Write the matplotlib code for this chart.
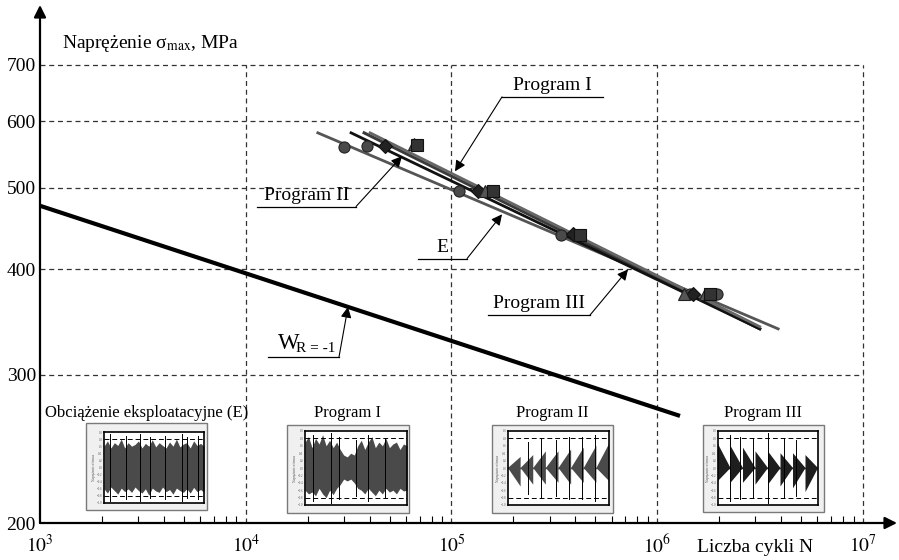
import numpy as np
import matplotlib.pyplot as plt
from matplotlib.patches import Rectangle
from matplotlib.ticker import NullLocator, LogLocator

plt.rcParams['font.family'] = ['Liberation Serif', 'DejaVu Serif']
plt.rcParams['mathtext.fontset'] = 'stix'

# test points (N, sigma_max)
e_N = [30000, 39000, 109000, 339000, 1.45e6, 1.95e6]
e_s = [559, 561, 496, 440, 374, 374]
p1_N = [47700, 134000, 388000, 1.5e6]
p1_s = [561, 496, 441, 374]
p2_N = [66000, 146000, 415000, 1.35e6, 1.7e6]
p2_s = [563, 495, 439, 374, 374]
p3_N = [68000, 160000, 420000, 1.8e6]
p3_s = [562, 496, 440, 374]

# fitted S-N lines (end points)
e_line_N = [22400, 3.87e6]
e_line_s = [581, 340]
p1_line_N = [37600, 3.15e6]
p1_line_s = [581, 340]
p2_line_N = [32500, 3.15e6]
p2_line_s = [581, 340]
p3_line_N = [40200, 3.15e6]
p3_line_s = [581, 342]

# W R=-1 curve
wr_N = [1e3, 1.29e6]
wr_s = [476, 268]

y_ticks = [200, 300, 400, 500, 600, 700]
x_ticks = [1e3, 1e4, 1e5, 1e6, 1e7]
x_labels = [r'$10^{3}$', r'$10^{4}$', r'$10^{5}$', r'$10^{6}$', r'$10^{7}$']

# load history envelopes for the small insets (normalised stress)
e_upper = [0.6, 0.75, 0.55, 0.7, 0.62, 0.8, 0.55, 0.7, 0.6, 0.65,
           0.75, 0.55, 0.68, 0.6, 0.78, 0.58, 0.7, 0.62, 0.55, 0.72,
           0.6, 0.8, 0.58, 0.66, 0.7, 0.55, 0.75, 0.62, 0.68, 0.6]
e_lower = [-0.6, -0.72, -0.55, -0.65, -0.75, -0.58, -0.68, -0.6, -0.7, -0.55,
           -0.65, -0.72, -0.6, -0.78, -0.58, -0.66, -0.7, -0.55, -0.68, -0.62,
           -0.75, -0.58, -0.65, -0.7, -0.6, -0.72, -0.56, -0.68, -0.62, -0.7]
e_spike_x = [0.06, 0.22, 0.36, 0.46, 0.61, 0.78, 0.83, 0.94]
e_spike_h = [0.95, 0.9, 0.95, 0.85, 0.9, 0.95, 0.85, 0.9]

p1_upper = [0.7, 0.85, 0.55, 0.8, 0.65, 0.9, 0.6, 0.75, 0.55, 0.7,
            0.5, 0.35, 0.3, 0.4, 0.35, 0.6, 0.75, 0.5, 0.7, 0.85,
            0.55, 0.7, 0.6, 0.8, 0.55, 0.65, 0.7, 0.5, 0.65, 0.6]
p1_lower = [-0.6, -0.7, -0.65, -0.75, -0.55, -0.7, -0.8, -0.6, -0.72, -0.55,
            -0.45, -0.3, -0.35, -0.3, -0.4, -0.55, -0.6, -0.7, -0.55, -0.65,
            -0.75, -0.6, -0.7, -0.55, -0.65, -0.6, -0.7, -0.55, -0.62, -0.6]
p1_spike_x = [0.08, 0.25, 0.33, 0.5, 0.62, 0.78]
p1_spike_h = [0.9, 0.95, 0.85, 0.75, 0.9, 0.8]

# block programs: max / min of each block
p2_block_up = [0.3, 0.35, 0.45, 0.45, 0.5, 0.55, 0.6, 0.65]
p2_block_lo = [-0.5, -0.45, -0.45, -0.4, -0.45, -0.4, -0.4, -0.35]
p2_spike_x = [0.2, 0.33, 0.48, 0.6, 0.73, 0.86]
p2_spike_h = [0.7, 0.8, 0.75, 0.85, 0.85, 0.9]

p3_block_up = [0.65, 0.6, 0.55, 0.45, 0.45, 0.4, 0.4, 0.35]
p3_block_lo = [-0.35, -0.4, -0.4, -0.45, -0.45, -0.5, -0.55, -0.65]
p3_spike_x = [0.12, 0.22, 0.35, 0.5, 0.66, 0.78]
p3_spike_h = [0.9, 0.85, 0.8, 0.95, 0.8, 0.75]

W, H = 899, 560
fig = plt.figure(figsize=(W / 100, H / 100), dpi=100)
ax = fig.add_axes([40 / W, (H - 523) / H, (897 - 40) / W, (523 - 5) / H])
ax.set_xscale('log')
ax.set_yscale('log')
ax.set_xlim(1e3, 10 ** (3 + (897 - 40) / 205.75))
ax.set_ylim(200, 824)
for s in ax.spines.values():
    s.set_visible(False)

# dashed grid box
for yv in y_ticks[1:]:
    ax.plot([1e3, 1e7], [yv, yv], ls=(0, (4, 3)), color='#333333', lw=0.9)
for xv in x_ticks[1:]:
    ax.plot([xv, xv], [200, 700], ls=(0, (4, 3)), color='#333333', lw=0.9)

# axes with arrows
ax.annotate('', xy=(0, 1), xytext=(0, 0), xycoords='axes fraction',
            arrowprops=dict(arrowstyle='-|>', lw=1.6, color='k',
                            mutation_scale=18, shrinkA=0, shrinkB=0))
ax.annotate('', xy=(1, 0), xytext=(0, 0), xycoords='axes fraction',
            arrowprops=dict(arrowstyle='-|>', lw=1.6, color='k',
                            mutation_scale=18, shrinkA=0, shrinkB=0))

ax.set_yticks(y_ticks)
ax.set_yticklabels([str(v) for v in y_ticks], fontsize=14)
ax.yaxis.set_minor_locator(NullLocator())
ax.tick_params(axis='y', length=0, pad=3)
ax.set_xticks(x_ticks)
ax.set_xticklabels(x_labels, fontsize=14)
ax.xaxis.set_minor_locator(LogLocator(base=10, subs=np.arange(2, 10)))
ax.tick_params(axis='x', which='major', length=0, pad=8)
ax.tick_params(axis='x', which='minor', direction='in', length=5, width=0.8,
               labelbottom=False)

# W R=-1
ax.plot(wr_N, wr_s, color='k', lw=3, solid_capstyle='butt')

# fitted lines
ax.plot(e_line_N, e_line_s, color='#555555', lw=2)
ax.plot(p1_line_N, p1_line_s, color='#3a3a3a', lw=2.2)
ax.plot(p2_line_N, p2_line_s, color='#111111', lw=2)
ax.plot(p3_line_N, p3_line_s, color='#666666', lw=2)

mk = dict(ls='none', markersize=8, markeredgewidth=0.8)
ax.plot(e_N, e_s, marker='o', color='#4a4a4a', markeredgecolor='#222222', **mk)
ax.plot(p1_N, p1_s, marker='D', color='#222222', markeredgecolor='#111111',
        **dict(mk, markersize=7))
ax.plot(p2_N, p2_s, marker='^', color='#555555', markeredgecolor='#222222', **mk)
ax.plot(p3_N, p3_s, marker='s', color='#333333', markeredgecolor='#111111', **mk)

# labels with underline + arrow
arrow = dict(arrowstyle='-|>', lw=0.8, color='k', mutation_scale=16,
             shrinkA=0, shrinkB=0)


def label(text, x0, x1, y, tip, start, size=14):
    ax.plot([x0, x1], [y, y], color='k', lw=0.9)
    xm = np.sqrt(x0 * x1)
    if text:
        ax.annotate(text, xy=(xm, y), xytext=(0, 2), textcoords='offset points',
                    ha='center', va='bottom', fontsize=size)
    ax.annotate('', xy=tip, xytext=(start, y), arrowprops=arrow)


label('Program I', 176000, 545000, 641, (104000, 523), 176000)
label('Program II', 11340, 34350, 475, (57450, 545), 34350)
label('E', 68750, 119000, 412, (176000, 465), 119000)
label('Program III', 150400, 471000, 353, (721000, 400), 471000)
label('', 12830, 28400, 315, (31400, 361), 28400)
ax.annotate('W', xy=(14300, 315), xytext=(0, 2), textcoords='offset points',
            ha='left', va='bottom', fontsize=16.5)
ax.annotate('R = -1', xy=(17600, 315), xytext=(0, 1), textcoords='offset points',
            ha='left', va='bottom', fontsize=11)

fig.text(62 / W, (H - 44) / H, 'Naprężenie σ$_{\\mathrm{max}}$, MPa',
         fontsize=14, va='center', ha='left')
fig.text(697 / W, (H - 548) / H, 'Liczba cykli N', fontsize=14,
         va='center', ha='left')


def draw_noise(ia, up, lo, col):
    xs = np.linspace(0, 1, len(up))
    ia.fill_between(xs, lo, up, color=col, lw=0)


def draw_blocks(ia, up, lo, col, rising):
    n = len(up)
    ia.plot([0, 1], [0, 0], color=col, lw=1.0)
    for k in range(n):
        a, b = k / n, (k + 1) / n
        apex = a if rising else b
        wide = b if rising else a
        ia.fill([apex, wide, wide], [0, up[k], lo[k]], color=col, lw=0)


# insets with load histories
insets = [
    ('Obciążenie eksploatacyjne (E)', (86, 423, 207, 510), (104, 432, 204, 503),
     'noise', e_upper, e_lower, e_spike_x, e_spike_h, '#4a4a4a', 12),
    ('Program I', (287, 425, 409, 513), (305, 431, 407, 505),
     'noise', p1_upper, p1_lower, p1_spike_x, p1_spike_h, '#4a4a4a', 12),
    ('Program II', (492, 425, 613, 513), (508, 431, 609, 505),
     'rise', p2_block_up, p2_block_lo, p2_spike_x, p2_spike_h, '#4a4a4a', 12),
    ('Program III', (703, 425, 824, 512), (718, 431, 818, 505),
     'fall', p3_block_up, p3_block_lo, p3_spike_x, p3_spike_h, '#1e1e1e', 12),
]
for title, outer, inner, kind, up, lo, sx, sh, col, tsize in insets:
    x0, y0, x1, y1 = outer
    fig.patches.append(Rectangle((x0 / W, (H - y1) / H), (x1 - x0) / W,
                                 (y1 - y0) / H, transform=fig.transFigure,
                                 facecolor='#f0f0f0', edgecolor='#7a7a7a',
                                 lw=1.0, zorder=5))
    fig.text((x0 + x1) / 2 / W, (H - 413) / H, title, fontsize=tsize,
             ha='center', va='center')
    i0, j0, i1, j1 = inner
    ia = fig.add_axes([i0 / W, (H - j1) / H, (i1 - i0) / W, (j1 - j0) / H])
    ia.set_zorder(6)
    if kind == 'noise':
        draw_noise(ia, up, lo, col)
    else:
        draw_blocks(ia, up, lo, col, kind == 'rise')
    for xx, hh in zip(sx, sh):
        ia.plot([xx, xx], [-hh, hh], color='k', lw=0.7)
    for yy in (-0.8, 0.8):
        ia.axhline(yy, color='k', lw=0.7, ls=(0, (5, 3)))
    ia.set_xlim(0, 1)
    ia.set_ylim(-1, 1)
    ia.set_xticks([])
    ia.set_yticks(np.round(np.arange(-1, 1.01, 0.2), 1))
    ia.tick_params(axis='y', labelsize=2.2, length=0.8, width=0.3, pad=0.5,
                   colors='#555555')
    ia.set_ylabel('Naprężenie σ/σmax', fontsize=2.5, labelpad=0.5,
                  color='#555555')
    for s in ia.spines.values():
        s.set_linewidth(1.2)

fig.savefig('out.png', dpi=100)
